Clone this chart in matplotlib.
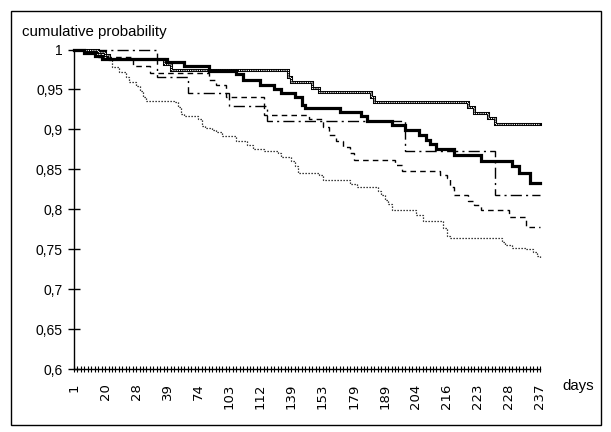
import matplotlib
matplotlib.use("Agg")
import matplotlib.pyplot as plt
from matplotlib.patches import Rectangle

# ---- data ----
n_categories = 136
tick_labels = ["1", "20", "28", "39", "74", "103", "112", "139", "153",
               "179", "189", "204", "216", "223", "228", "237"]
label_step = 9

# thick solid
a_idx = [0, 3, 6, 8, 27, 32, 39, 47, 49, 54, 58, 60, 64, 66, 67, 77, 83, 85,
         92, 96, 100, 102, 103, 105, 110, 118, 127, 129, 132]
a_val = [1.0, 0.996, 0.992, 0.988, 0.984, 0.979, 0.973, 0.969, 0.962, 0.956,
         0.950, 0.946, 0.941, 0.931, 0.927, 0.922, 0.917, 0.911, 0.906, 0.899,
         0.893, 0.887, 0.882, 0.876, 0.868, 0.860, 0.854, 0.845, 0.833]

# double (top) line
b_idx = [0, 7, 9, 10, 26, 28, 62, 63, 69, 71, 86, 87, 114, 116, 120, 122]
b_val = [1.0, 0.997, 0.993, 0.988, 0.982, 0.974, 0.966, 0.959, 0.952, 0.947,
         0.940, 0.934, 0.928, 0.921, 0.914, 0.907]

# dash-dot
c_idx = [0, 24, 33, 45, 56, 96, 122]
c_val = [1.0, 0.965, 0.946, 0.929, 0.910, 0.873, 0.818]

# dashed
d_idx = [0, 7, 17, 22, 39, 41, 44, 55, 68, 72, 74, 76, 78, 80, 81, 93, 95,
         106, 108, 109, 110, 114, 116, 118, 126, 131]
d_val = [1.0, 0.990, 0.979, 0.971, 0.962, 0.956, 0.940, 0.918, 0.913, 0.903,
         0.893, 0.886, 0.878, 0.870, 0.862, 0.856, 0.848, 0.843, 0.839, 0.828,
         0.818, 0.810, 0.805, 0.799, 0.790, 0.778]

# dotted (lowest)
e_idx = [0, 5, 7, 8, 10, 11, 13, 15, 16, 18, 19, 20, 21, 29, 30, 31, 32, 36,
         37, 38, 40, 41, 43, 47, 50, 52, 55, 59, 60, 63, 64, 65, 71, 72, 80,
         82, 88, 89, 90, 91, 92, 99, 101, 107, 108, 109, 124, 125, 127, 131,
         133, 134, 135]
e_val = [1.0, 0.997, 0.994, 0.991, 0.987, 0.978, 0.972, 0.965, 0.959, 0.954,
         0.948, 0.940, 0.936, 0.934, 0.928, 0.919, 0.917, 0.913, 0.904, 0.902,
         0.899, 0.897, 0.892, 0.886, 0.881, 0.876, 0.873, 0.870, 0.865, 0.860,
         0.854, 0.846, 0.843, 0.836, 0.831, 0.828, 0.823, 0.818, 0.812, 0.806,
         0.799, 0.793, 0.785, 0.777, 0.766, 0.764, 0.759, 0.755, 0.752, 0.750,
         0.746, 0.742, 0.739]

y_ticks = [0.6, 0.65, 0.7, 0.75, 0.8, 0.85, 0.9, 0.95, 1.0]

# ---- figure ----
W, H = 611, 432
fig = plt.figure(figsize=(W / 100, H / 100), dpi=100)
fig.patch.set_facecolor("white")

x0, x1, ytop, ybot = 74, 540, 49.5, 369
ax = fig.add_axes([x0 / W, (H - ybot) / H, (x1 - x0) / W, (ybot - ytop) / H])

last = n_categories - 1


def ext(idx, val):
    if idx[-1] < last:
        return list(idx) + [last], list(val) + [val[-1]]
    return list(idx), list(val)


kw = dict(drawstyle="steps-post", clip_on=False, solid_joinstyle="miter",
          dash_joinstyle="miter")

xs, ys = ext(e_idx, e_val)
ax.plot(xs, ys, color="black", lw=0.9, linestyle=(0, (1, 1.4)), **kw)
xs, ys = ext(d_idx, d_val)
ax.plot(xs, ys, color="black", lw=1.0, linestyle=(0, (4, 3)), **kw)
xs, ys = ext(c_idx, c_val)
ax.plot(xs, ys, color="black", lw=1.0, linestyle=(0, (8, 3, 1.5, 3)), **kw)
xs, ys = ext(b_idx, b_val)
ax.plot(xs, ys, color="black", lw=2.2, **kw)
ax.plot(xs, ys, color="white", lw=0.8, linestyle=(0, (1, 1)), **kw)
xs, ys = ext(a_idx, a_val)
ax.plot(xs, ys, color="black", lw=2.3, **kw)

ax.set_xlim(0, last)
ax.set_ylim(0.6, 1.0)
ax.set_facecolor("none")
for s in ("top", "right"):
    ax.spines[s].set_visible(False)
for s in ("left", "bottom"):
    ax.spines[s].set_linewidth(1.0)
    ax.spines[s].set_color("black")

major = list(range(0, n_categories, label_step))
ax.set_xticks(major)
ax.set_xticklabels(tick_labels, rotation=90, fontsize=9.5,
                   family=["DejaVu Sans"])
ax.set_xticks([i for i in range(n_categories) if i not in major], minor=True)
ax.tick_params(axis="x", which="both", direction="inout", length=5,
               width=0.8, pad=8)

ax.set_yticks(y_ticks)
ax.set_yticklabels([("%g" % v).replace(".", ",") for v in y_ticks],
                   fontsize=10, family=["Liberation Sans", "DejaVu Sans"])
ax.tick_params(axis="y", direction="inout", length=8, width=1.0, pad=4)

fig.text(22 / W, 1 - 36 / H, "cumulative probability", fontsize=10.8,
         family=["Liberation Sans", "DejaVu Sans"], ha="left",
         va="baseline")
fig.text(562 / W, 1 - 390 / H, "days", fontsize=10.8,
         family=["Liberation Sans", "DejaVu Sans"], ha="left",
         va="baseline")

fig.add_artist(Rectangle((11 / W, 1 - 425 / H), 590 / W, 414 / H,
                         transform=fig.transFigure, fill=False,
                         edgecolor="black", lw=1.0))

fig.savefig("out.png", dpi=100)
